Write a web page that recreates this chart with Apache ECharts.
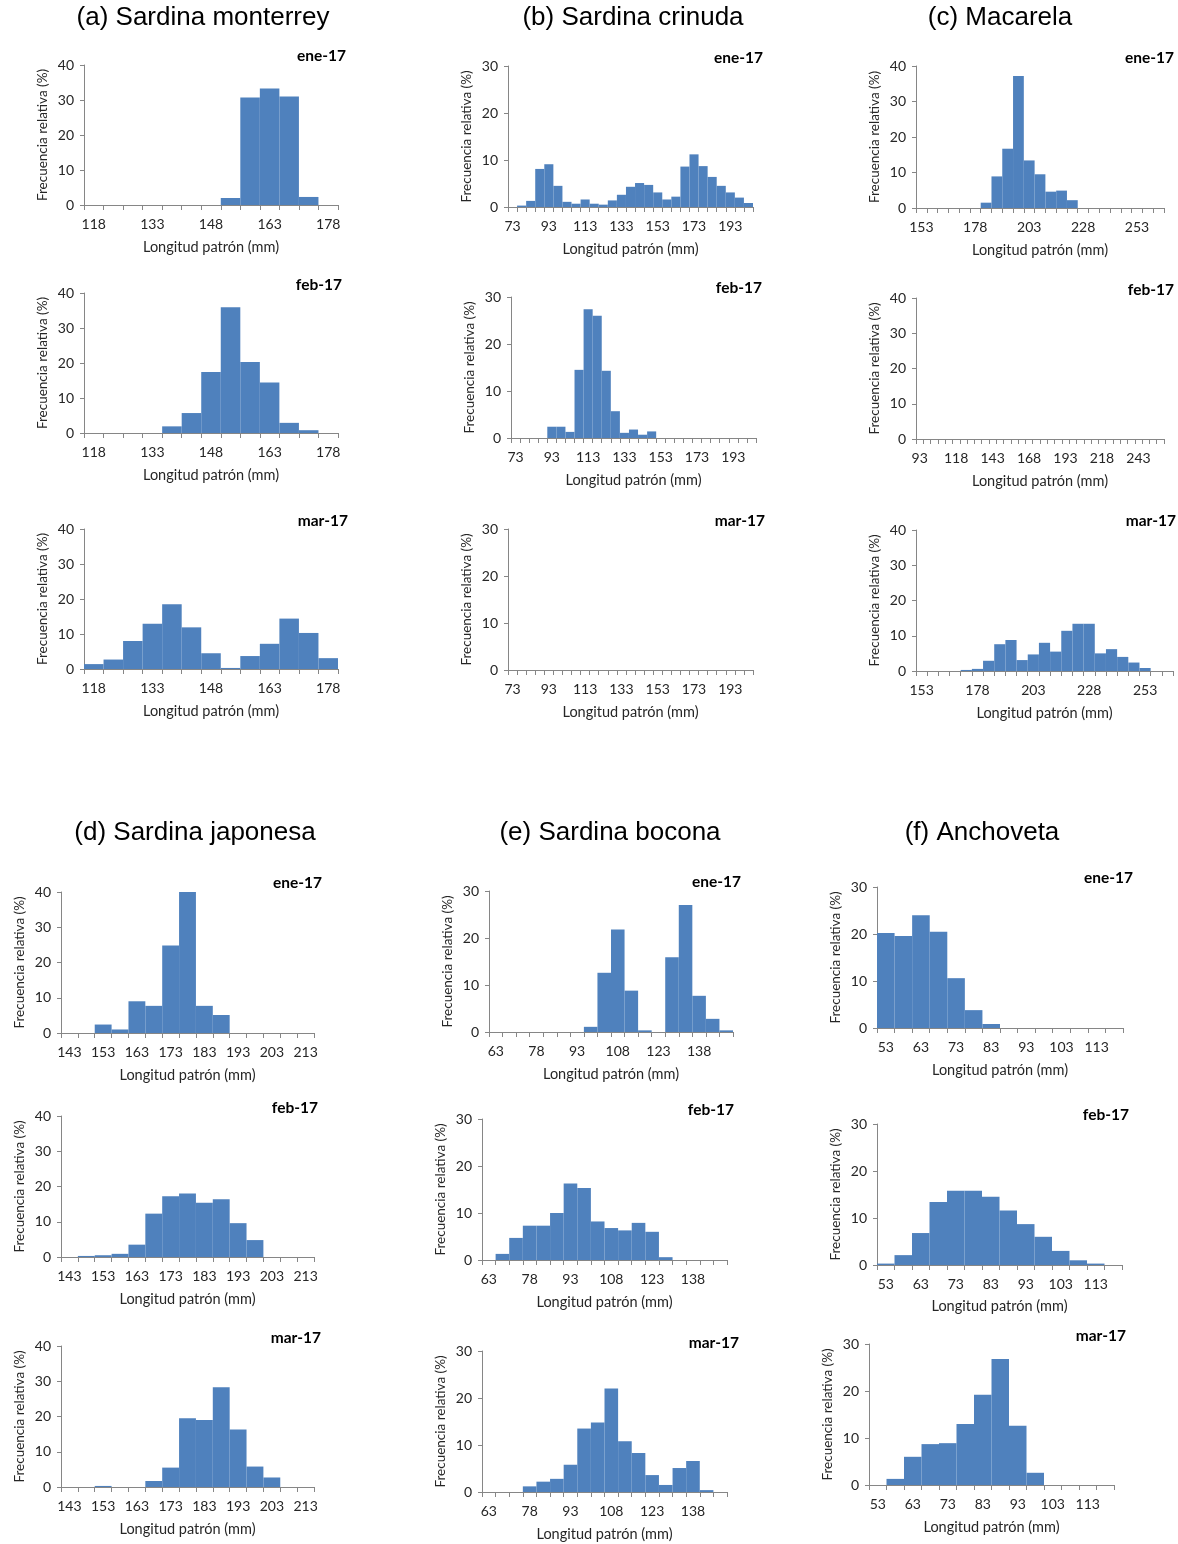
<!DOCTYPE html>
<html><head><meta charset="utf-8">
<script src="https://cdn.jsdelivr.net/npm/echarts@6/dist/echarts.min.js"></script>
<style>html,body{margin:0;padding:0;background:#fff}#c{width:1178px;height:1544px}</style>
</head><body><div id="c"></div>
<script>
// ---------- categories (length class lower limits, mm) ----------
const catsA = [118,123,128,133,138,143,148,153,158,163,168,173,178];
const catsB = [73,78,83,88,93,98,103,108,113,118,123,128,133,138,143,148,153,158,163,168,173,178,183,188,193,198,203];
const catsC = [153,158,163,168,173,178,183,188,193,198,203,208,213,218,223,228,233,238,243,248,253,258,263];
const catsCfeb = [93,98,103,108,113,118,123,128,133,138,143,148,153,158,163,168,173,178,183,188,193,198,203,208,213,218,223,228,233,238,243,248,253,258];
const catsD = [143,148,153,158,163,168,173,178,183,188,193,198,203,208,213];
const catsE = [63,68,73,78,83,88,93,98,103,108,113,118,123,128,133,138,143,148];
const catsF = [53,58,63,68,73,78,83,88,93,98,103,108,113,118];

// ---------- relative frequencies (%) ----------
const aEne = [0,0,0,0,0,0,0,2.0,30.7,33.3,31.0,2.3,0];
const aFeb = [0,0,0,0,1.9,5.7,17.4,35.9,20.3,14.4,2.9,0.8,0];
const aMar = [1.4,2.7,8.0,12.9,18.5,11.9,4.5,0.3,3.7,7.2,14.4,10.3,3.1];

const bEne = [0,0.3,1.3,8.1,9.1,4.5,1.1,0.7,1.6,0.7,0.5,1.4,2.6,4.3,5.1,4.7,3.1,1.6,2.2,8.6,11.2,8.7,6.4,4.5,3.1,2.0,0.85];
const bFeb = [0,0,0,0,2.4,2.4,1.3,14.5,27.4,26.0,14.3,5.7,1.1,1.8,0.7,1.4,0,0,0,0,0,0,0,0,0,0,0];
const bMar = [0,0,0,0,0,0,0,0,0,0,0,0,0,0,0,0,0,0,0,0,0,0,0,0,0,0,0];

const cEne = [0,0,0,0,0,0,1.5,8.9,16.7,37.2,13.4,9.5,4.6,4.9,2.2,0,0,0,0,0,0,0,0];
const cFeb = [0,0,0,0,0,0,0,0,0,0,0,0,0,0,0,0,0,0,0,0,0,0,0,0,0,0,0,0,0,0,0,0,0,0];
const cMar = [0,0,0,0,0.3,0.6,2.9,7.6,8.8,3.1,4.7,8.0,5.5,11.4,13.4,13.4,5.0,6.2,4.0,2.4,0.85,0,0];

const dEne = [0,0,2.4,1.0,9.0,7.7,24.8,40.0,7.7,5.1,0,0,0,0,0];
const dFeb = [0,0.3,0.5,0.9,3.5,12.3,17.2,18.0,15.4,16.4,9.6,4.8,0,0,0];
const dMar = [0,0,0.3,0,0,1.7,5.5,19.5,19.0,28.3,16.3,5.8,2.7,0,0];

const eEne = [0,0,0,0,0,0,0,1.1,12.6,21.8,8.8,0.35,0,15.9,27.0,7.7,2.8,0.35];
const eFeb = [0,1.3,4.7,7.3,7.3,10.0,16.3,15.3,8.2,6.8,6.3,7.9,6.0,0.6,0,0,0,0];
const eMar = [0,0,0,1.2,2.2,2.8,5.8,13.5,14.8,22.0,10.8,8.3,3.6,1.5,5.1,6.6,0.4,0];

const fEne = [20.2,19.6,24.0,20.5,10.6,3.8,0.85,0,0,0,0,0,0,0];
const fFeb = [0.3,2.1,6.8,13.4,15.8,15.8,14.5,11.6,8.7,6.0,3.0,1.0,0.3,0];
const fMar = [0,1.3,6.0,8.7,8.9,13.0,19.2,26.8,12.6,2.6,0,0,0,0];

const titles = ['(a) Sardina monterrey','(b) Sardina crinuda','(c) Macarela','(d) Sardina japonesa','(e) Sardina bocona','(f) Anchoveta'];
const xName = 'Longitud patrón (mm)';
const yName = 'Frecuencia relativa (%)';

// ---------- panel layout ----------
// box: [left, right, top, bottom] of plot area; nameY: centre of x-axis name; mon: [right x, centre y] of month label
const panels = [
  {cats:catsA, data:aEne, max:40, every:3, month:'ene-17', box:[84,338,65,205],  nameY:248, mon:[346,56]},
  {cats:catsA, data:aFeb, max:40, every:3, month:'feb-17', box:[84,338,293,433], nameY:476, mon:[342,285]},
  {cats:catsA, data:aMar, max:40, every:3, month:'mar-17', box:[84,338,529,669], nameY:712, mon:[348,521]},
  {cats:catsB, data:bEne, max:30, every:4, month:'ene-17', box:[508,753,66,207], nameY:250, mon:[763,58]},
  {cats:catsB, data:bFeb, max:30, every:4, month:'feb-17', box:[511,756,297,438],nameY:481, mon:[762,288]},
  {cats:catsB, data:bMar, max:30, every:4, month:'mar-17', box:[508,753,529,670],nameY:713, mon:[765,521]},
  {cats:catsC, data:cEne, max:40, every:5, month:'ene-17', box:[916,1164,66,208], nameY:251, mon:[1174,58]},
  {cats:catsCfeb, data:cFeb, max:40, every:5, month:'feb-17', box:[916,1164,298,439], nameY:482, mon:[1174,290]},
  {cats:catsC, data:cMar, max:40, every:5, month:'mar-17', box:[916,1173,530,671], nameY:714, mon:[1176,521]},
  {cats:catsD, data:dEne, max:40, every:2, month:'ene-17', box:[61,314,892,1033], nameY:1076, mon:[322,883]},
  {cats:catsD, data:dFeb, max:40, every:2, month:'feb-17', box:[61,314,1116,1257],nameY:1300, mon:[318,1108]},
  {cats:catsD, data:dMar, max:40, every:2, month:'mar-17', box:[61,314,1346,1487],nameY:1530, mon:[321,1338]},
  {cats:catsE, data:eEne, max:30, every:3, month:'ene-17', box:[489,733,891,1032], nameY:1075, mon:[741,882]},
  {cats:catsE, data:eFeb, max:30, every:3, month:'feb-17', box:[482,727,1119,1260],nameY:1303, mon:[734,1110]},
  {cats:catsE, data:eMar, max:30, every:3, month:'mar-17', box:[482,727,1351,1492],nameY:1535, mon:[739,1343]},
  {cats:catsF, data:fEne, max:30, every:2, month:'ene-17', box:[877,1123,887,1028], nameY:1071, mon:[1133,878]},
  {cats:catsF, data:fFeb, max:30, every:2, month:'feb-17', box:[877,1122,1124,1265],nameY:1307, mon:[1129,1115]},
  {cats:catsF, data:fMar, max:30, every:2, month:'mar-17', box:[869,1114,1344,1485],nameY:1528, mon:[1126,1336]}
];
const titlePos = [[203,18],[633,18],[1000,18],[195,833],[610,833],[982,833]];

const AX = '#868686', TXT = '#262626', BAR = '#4F81BD';
const FONT = 'Lato, "Open Sans", sans-serif';

const grid = [], xAxis = [], yAxis = [], series = [], graphic = [];
panels.forEach((p, i) => {
  const [l, r, t, b] = p.box;
  grid.push({left:l, top:t, width:r-l, height:b-t, containLabel:false});
  xAxis.push({
    type:'category', gridIndex:i, data:p.cats.map(String), boundaryGap:true,
    axisLine:{lineStyle:{color:AX, width:1}},
    axisTick:{show:true, interval:0, length:5, lineStyle:{color:AX}},
    axisLabel:{interval:p.every-1, margin:12, fontSize:14, color:TXT, fontFamily:FONT},
    splitLine:{show:false},
    name:xName, nameLocation:'middle', nameGap:p.nameY-b-8,
    nameTextStyle:{fontSize:14.5, color:TXT, fontFamily:FONT}
  });
  yAxis.push({
    type:'value', gridIndex:i, min:0, max:p.max, interval:10,
    axisLine:{show:true, lineStyle:{color:AX, width:1}},
    axisTick:{show:true, length:4, lineStyle:{color:AX}},
    axisLabel:{margin:10, fontSize:14, color:TXT, fontFamily:FONT},
    splitLine:{show:false},
    name:yName, nameLocation:'middle', nameRotate:90, nameGap:34,
    nameTextStyle:{fontSize:13.5, color:TXT, fontFamily:FONT}
  });
  series.push({
    type:'bar', xAxisIndex:i, yAxisIndex:i, data:p.data,
    barCategoryGap:'0%', barGap:'0%', silent:true,
    itemStyle:{color:BAR}
  });
  graphic.push({
    type:'text', x:p.mon[0], y:p.mon[1],
    style:{text:p.month, font:'bold 15.5px ' + FONT, fill:'#000',
      align:'right', textAlign:'right', verticalAlign:'middle', textVerticalAlign:'middle'}
  });
});
titles.forEach((t, i) => {
  graphic.push({
    type:'text', x:titlePos[i][0], y:titlePos[i][1],
    style:{text:t, font:'26px "Liberation Sans", Arial, sans-serif', fill:'#000',
      align:'center', textAlign:'center', verticalAlign:'middle', textVerticalAlign:'middle'}
  });
});

const chart = echarts.init(document.getElementById('c'), null, {renderer:'canvas'});
chart.setOption({
  animation:false, backgroundColor:'#fff',
  grid, xAxis, yAxis, series, graphic
});
</script>
</body></html>
